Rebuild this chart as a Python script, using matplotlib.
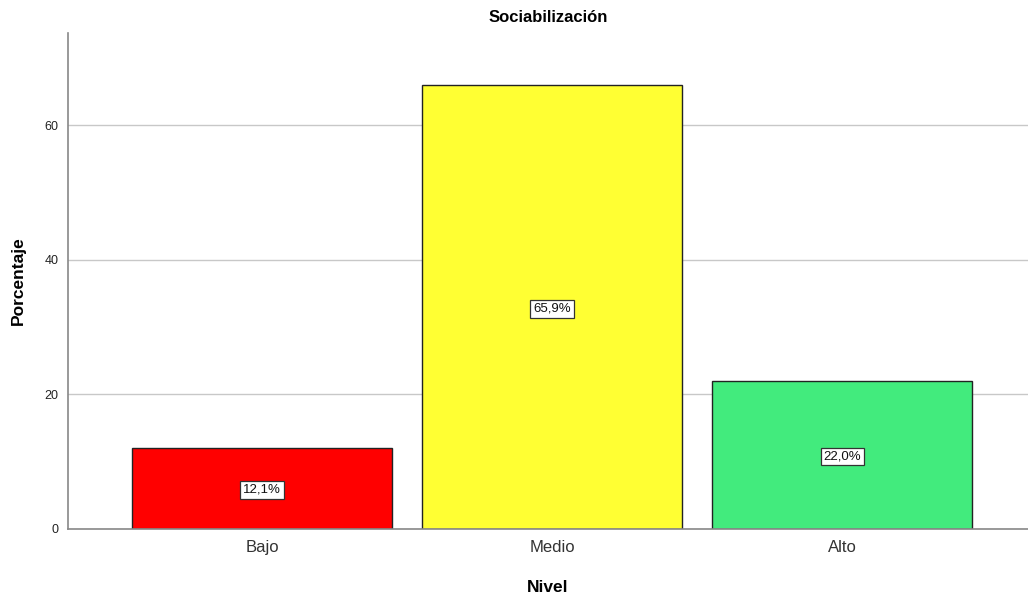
import matplotlib.pyplot as plt
import numpy as np

plt.rcParams["font.family"] = ["Liberation Sans", "DejaVu Sans"]

NIVELES = ["Bajo", "Medio", "Alto"]
PORCENTAJES = [12.1, 65.9, 22.0]
ETIQUETAS = ["12,1%", "65,9%", "22,0%"]
COLORES = ["#FF0000", "#FFFF33", "#42EB7D"]

fig = plt.figure(figsize=(10.28, 5.99), dpi=100)
ax = fig.add_axes([0.0661, 0.1169, 0.9339, 0.828])

x = np.arange(len(NIVELES))
ax.bar(x, PORCENTAJES, width=0.897, color=COLORES, edgecolor="#222222",
       linewidth=1.0, zorder=2)

# etiquetas de porcentaje en el centro de cada barra
for xi, val, lab in zip(x, PORCENTAJES, ETIQUETAS):
    ax.text(xi, val / 2, lab, ha="center", va="center_baseline", fontsize=9.5,
            color="#111111", zorder=3,
            bbox=dict(boxstyle="square,pad=0.22", facecolor="white",
                      edgecolor="#333333", linewidth=0.9))

ax.set_xlim(-0.669, 2.64)
ax.set_ylim(0, 73.7)
ax.set_yticks([0, 20, 40, 60])
ax.yaxis.grid(True, color="#C8C8C8", linewidth=1.0, zorder=0)
ax.set_axisbelow(True)

ax.set_xticks(x)
ax.set_xticklabels(NIVELES, fontsize=12, color="#333333")
ax.tick_params(axis="y", labelsize=9, length=0, pad=7, colors="#222222")
ax.tick_params(axis="x", length=0, pad=8)

for side in ["top", "right"]:
    ax.spines[side].set_visible(False)
for side in ["left", "bottom"]:
    ax.spines[side].set_color("#888888")
    ax.spines[side].set_linewidth(1.2)

ax.set_title("Sociabilización", fontsize=12, fontweight="bold", pad=8)
ax.set_ylabel("Porcentaje", fontsize=12.5, fontweight="bold", labelpad=13)
ax.set_xlabel("Nivel", fontsize=12.5, fontweight="bold", labelpad=18)

plt.savefig("out.png", dpi=100)
